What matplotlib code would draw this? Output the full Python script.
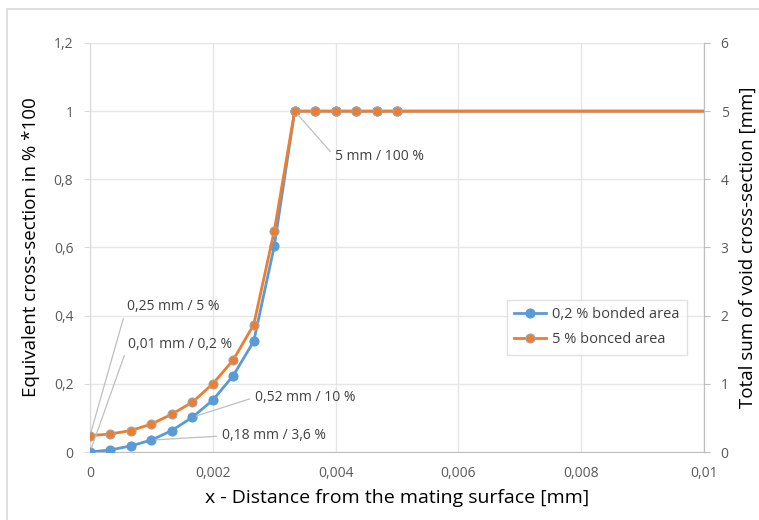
import matplotlib
matplotlib.use("Agg")
import matplotlib.pyplot as plt
from matplotlib.patches import Rectangle

plt.rcParams['font.family'] = ['Open Sans', 'DejaVu Sans']

# ---- data ----
x_vals = [0, 0.000333, 0.000667, 0.001, 0.001333, 0.001667, 0.002, 0.002333,
          0.002667, 0.003, 0.003333, 0.003667, 0.004, 0.004333, 0.004667, 0.005, 0.01]
bonded_02 = [0.0, 0.006, 0.018, 0.035, 0.063, 0.102, 0.152, 0.224,
             0.325, 0.603, 1.0, 1.0, 1.0, 1.0, 1.0, 1.0, 1.0]
bonded_5 = [0.048, 0.053, 0.063, 0.082, 0.111, 0.146, 0.200, 0.270,
            0.374, 0.648, 1.0, 1.0, 1.0, 1.0, 1.0, 1.0, 1.0]
series_labels = ["0,2 % bonded area", "5 % bonced area"]
x_ticks = [0, 0.002, 0.004, 0.006, 0.008, 0.01]
x_tick_labels = ["0", "0,002", "0,004", "0,006", "0,008", "0,01"]
y_ticks = [0, 0.2, 0.4, 0.6, 0.8, 1.0, 1.2]
y_tick_labels = ["0", "0,2", "0,4", "0,6", "0,8", "1", "1,2"]
y2_ticks = [0, 1, 2, 3, 4, 5, 6]
# annotations: (text, series index, point index, text x, text y)
annotations = [
    ("0,25 mm / 5 %", 1, 0, 0.00060, 0.428),
    ("0,01 mm / 0,2 %", 0, 0, 0.00062, 0.314),
    ("0,52 mm / 10 %", 0, 5, 0.00269, 0.161),
    ("0,18 mm / 3,6 %", 0, 3, 0.00215, 0.047),
    ("5 mm / 100 %", 1, 10, 0.00399, 0.866),
]

blue = "#5B9BD5"
orange = "#ED7D31"
tick_col = "#595959"

fig = plt.figure(figsize=(7.59, 5.2), dpi=100)
fig.patches.append(Rectangle((7/759, -0.1), 1.2, 1 - 9/520 + 0.1,
                             transform=fig.transFigure, fill=False,
                             edgecolor="#D9D9D9", linewidth=1.2))
ax = fig.add_axes([90/759, 68/520, 614/759, 409/520])

series = [bonded_02, bonded_5]
colors = [blue, orange]
edges = [blue, "#A5A5A5"]
for s, c, e, lab in zip(series, colors, edges, series_labels):
    ax.plot(x_vals, s, color=c, linewidth=2, marker='o', markersize=6.5,
            markerfacecolor=c, markeredgecolor=e, markeredgewidth=0.8,
            markevery=list(range(16)), label=lab, zorder=3)

ax.set_xlim(0, 0.01)
ax.set_ylim(0, 1.2)
ax.set_xticks(x_ticks)
ax.set_xticklabels(x_tick_labels)
ax.set_yticks(y_ticks)
ax.set_yticklabels(y_tick_labels)
ax.grid(True, color="#E6E6E6", linewidth=1)
ax.set_axisbelow(True)
ax.spines['top'].set_visible(False)
ax.spines['left'].set_color("#D9D9D9")
ax.spines['bottom'].set_color("#BFBFBF")
ax.spines['right'].set_color("#BFBFBF")
ax.tick_params(axis='x', length=0, pad=10, labelsize=10, labelcolor=tick_col)
ax.tick_params(axis='y', length=4, color="#D9D9D9", pad=8, labelsize=10, labelcolor=tick_col)

ax.set_xlabel("x - Distance from the mating surface [mm]", fontsize=14, color="#000000", labelpad=6)
ax.set_ylabel("Equivalent cross-section in % *100", fontsize=13.5, color="#000000", labelpad=10)

ax2 = ax.twinx()
ax2.set_ylim(0, 6)
ax2.set_yticks(y2_ticks)
ax2.spines['top'].set_visible(False)
ax2.spines['left'].set_visible(False)
ax2.spines['bottom'].set_visible(False)
ax2.spines['right'].set_color("#BFBFBF")
ax2.tick_params(axis='y', length=4, color="#BFBFBF", pad=8, labelsize=10, labelcolor=tick_col)
ax2.set_ylabel("Total sum of void cross-section [mm]", fontsize=13.5, color="#000000", labelpad=7)

for txt, si, pi, tx, ty in annotations:
    ax.annotate(txt, xy=(x_vals[pi], series[si][pi]), xytext=(tx, ty),
                textcoords='data', fontsize=10, color="#404040", va='center', ha='left',
                arrowprops=dict(arrowstyle='-', color="#BFBFBF", lw=0.9,
                                shrinkA=2, shrinkB=3, relpos=(0, 0.5)),
                zorder=4)

leg = ax.legend(loc='upper left', bbox_to_anchor=(0.679, 0.372), frameon=True,
                fancybox=False, edgecolor="#D9D9D9", fontsize=10.5, handlelength=2.2,
                borderpad=0.5, labelspacing=0.7, handletextpad=0.4, borderaxespad=0)
for t in leg.get_texts():
    t.set_color("#404040")

fig.savefig("out.png", dpi=100)
